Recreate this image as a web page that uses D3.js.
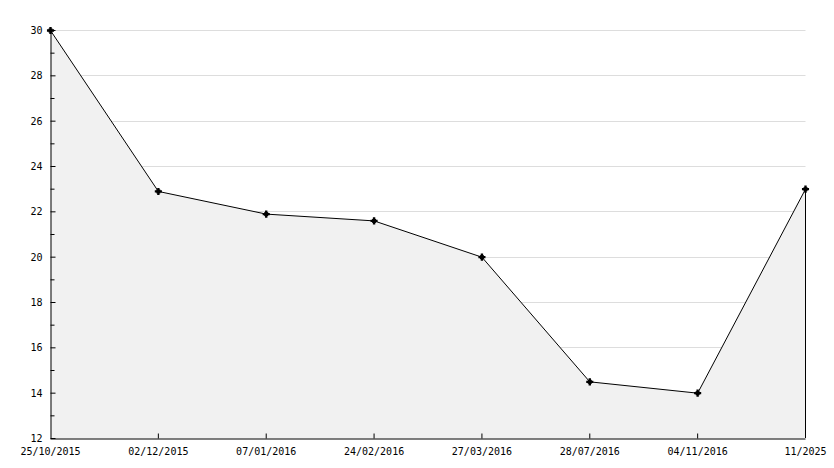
<!DOCTYPE html>
<html>
<head>
<meta charset="utf-8">
<script src="https://cdn.jsdelivr.net/npm/d3@7"></script>
<style>
  body { margin: 0; background: #fff; }
  svg text { font-family: "DejaVu Sans Mono", monospace; font-size: 10px; fill: #000; }
</style>
</head>
<body>
<div id="chart"></div>
<script>
// data
const dates = ["25/10/2015", "02/12/2015", "07/01/2016", "24/02/2016", "27/03/2016", "28/07/2016", "04/11/2016", "11/2025"];
const values = [30, 22.9, 21.9, 21.6, 20, 14.5, 14, 23];
const yTicks = [12, 14, 16, 18, 20, 22, 24, 26, 28, 30];

const width = 834, height = 468;
const margin = {top: 30, right: 29, bottom: 30, left: 50};

const svg = d3.select("#chart").append("svg")
  .attr("width", width)
  .attr("height", height);

const x = d3.scalePoint()
  .domain(dates)
  .range([margin.left, width - margin.right]);

const y = d3.scaleLinear()
  .domain([12, 30])
  .range([height - margin.bottom, margin.top]);

// grid lines
svg.append("g")
  .selectAll("line")
  .data(yTicks.filter(d => d > 12))
  .enter().append("line")
  .attr("x1", margin.left + 0.5)
  .attr("x2", width - margin.right + 0.5)
  .attr("y1", d => Math.round(y(d)) + 0.5)
  .attr("y2", d => Math.round(y(d)) + 0.5)
  .attr("stroke", "#dddddd");

let data = dates.map((d, i) => [d, values[i]]);

// area under the line
let area = d3.area()
  .x(d => x(d[0]) + 0.5)
  .y0(y(12) + 0.5)
  .y1(d => y(d[1]) + 0.5);
svg.append("path")
  .datum(data)
  .attr("d", area)
  .attr("fill", "#f1f1f1");

// right edge of the area
let last = data[data.length - 1];
svg.append("line")
  .attr("x1", x(last[0]) + 0.5)
  .attr("x2", x(last[0]) + 0.5)
  .attr("y1", y(last[1]))
  .attr("y2", y(12))
  .attr("stroke", "#000");

// line
let line = d3.line()
  .x(d => x(d[0]) + 0.5)
  .y(d => y(d[1]) + 0.5);
svg.append("path")
  .datum(data)
  .attr("d", line)
  .attr("fill", "none")
  .attr("stroke", "#000")
  .attr("stroke-width", 1);

// y axis with ticks pointing inwards
let yAxis = d3.axisRight(y)
  .tickValues(d3.range(12, 31, 1))
  .tickSize(0)
  .tickFormat("");
let yg = svg.append("g")
  .attr("transform", "translate(" + (margin.left + 0.5) + ",0)")
  .call(yAxis);
yg.select(".domain").attr("stroke", "#000");
yg.selectAll(".tick line")
  .attr("x2", d => d % 2 === 0 ? 5 : 4)
  .attr("stroke", "#000");
yg.selectAll(".tick")
  .filter(d => d % 2 === 0)
  .append("text")
  .attr("x", -8)
  .attr("dy", "0.35em")
  .attr("text-anchor", "end")
  .attr("fill", "#000")
  .text(d => d);

// x axis
let xAxis = d3.axisBottom(x)
  .tickSize(0)
  .tickPadding(10);
let xg = svg.append("g")
  .attr("transform", "translate(0," + (y(12) + 0.5) + ")")
  .call(xAxis);
xg.select(".domain").attr("stroke", "#000");
xg.selectAll(".tick text").attr("fill", "#000").attr("dy", "0.6em");
xg.selectAll(".tick line")
  .filter((d, i) => i > 0 && i < dates.length - 1)
  .attr("y2", -5)
  .attr("stroke", "#000");

// markers
let markers = svg.append("g").selectAll("g")
  .data(data)
  .enter().append("g")
  .attr("transform", d => "translate(" + (x(d[0]) + 0.5) + "," + (y(d[1]) + 0.5) + ")");
markers.append("path")
  .attr("d", d3.symbol().type(d3.symbolSquare).size(16))
  .attr("fill", "#000");
markers.append("path")
  .attr("d", d3.symbol().type(d3.symbolCross).size(28))
  .attr("fill", "#000");
</script>
</body>
</html>
